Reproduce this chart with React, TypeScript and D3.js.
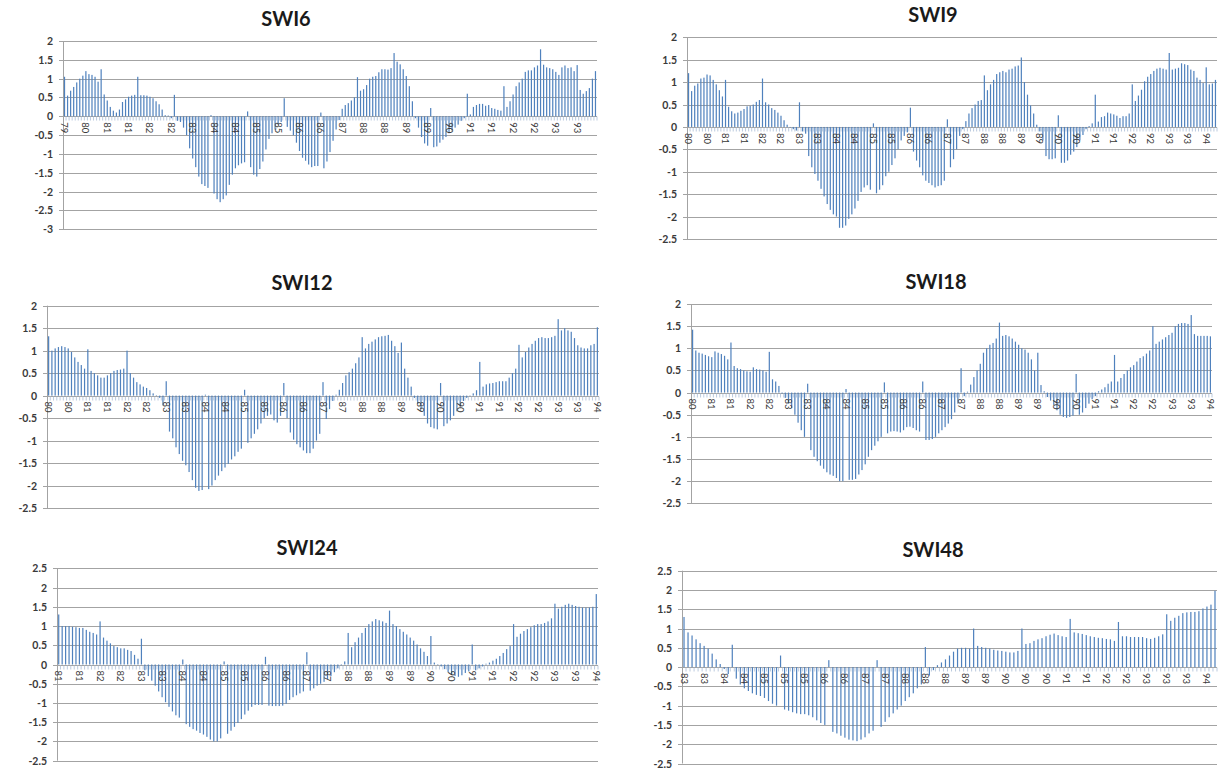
import React from 'react';
import * as d3 from 'd3';

// ---------- data (monthly index values) ----------
const swi6Values = [
  1.05, 0.55, 0.68, 0.78, 0.9, 1.0, 1.08, 1.2, 1.12, 1.1, 1.05, 0.92,
  1.25, 0.58, 0.42, 0.25, 0.15, 0.1, 0.18, 0.38, 0.45, 0.52, 0.55, 0.57,
  1.05, 0.56, 0.56, 0.55, 0.52, 0.48, 0.4, 0.32, 0.18, 0.03, 0.02, -0.05,
  0.57, -0.12, -0.15, -0.3, -0.5, -0.85, -1.12, -1.35, -1.6, -1.8, -1.85, -1.9,
  0.03, -2.05, -2.2, -2.28, -2.2, -2.1, -1.82, -1.55, -1.38, -1.3, -1.25, -1.22,
  0.13, -1.35, -1.55, -1.6, -1.4, -1.2, -0.88, -0.6, -0.45, -0.35, -0.22, -0.15,
  0.48, -0.28, -0.38, -0.5, -0.7, -0.92, -1.1, -1.18, -1.28, -1.35, -1.32, -1.32,
  0.1, -1.38, -1.2, -0.95, -0.65, -0.35, -0.1, 0.2, 0.3, 0.35, 0.42, 0.5,
  1.04, 0.68, 0.72, 0.83, 1.0, 1.05, 1.07, 1.17, 1.25, 1.25, 1.24, 1.28,
  1.68, 1.45, 1.38, 1.25, 1.07, 0.8, 0.4, -0.05, -0.3, -0.55, -0.72, -0.78,
  0.22, -0.82, -0.8, -0.7, -0.62, -0.55, -0.45, -0.38, -0.3, -0.22, -0.12, -0.05,
  0.6, 0.05, 0.25, 0.3, 0.33, 0.33, 0.28, 0.3, 0.22, 0.2, 0.17, 0.15,
  0.8, 0.25, 0.4, 0.58, 0.8, 0.9, 1.0, 1.18, 1.22, 1.22, 1.3, 1.35,
  1.78, 1.37, 1.3, 1.28, 1.25, 1.18, 1.1, 1.3, 1.35, 1.28, 1.3, 1.2,
  1.36, 0.7, 0.6, 0.67, 0.75, 1.0, 1.2,
];
const swi6Labels = ['79', '80', '81', '81', '82', '82', '83', '84', '84', '85', '85', '86', '86', '87', '88', '88', '89', '89', '90', '91', '91', '92', '92', '93', '93'];

const swi9Values = [
  1.2, 0.8, 0.92, 0.97, 1.08, 1.1, 1.17, 1.15, 1.05, 0.95, 0.82, 0.68,
  1.05, 0.45, 0.35, 0.3, 0.32, 0.36, 0.4, 0.46, 0.47, 0.5, 0.56, 0.6,
  1.08, 0.55, 0.5, 0.42, 0.38, 0.32, 0.25, 0.15, 0.05, 0.0, -0.05, -0.08,
  0.55, -0.1, -0.15, -0.65, -0.9, -1.05, -1.2, -1.38, -1.55, -1.72, -1.85, -1.95,
  -2.0, -2.25, -2.25, -2.2, -2.05, -1.95, -1.82, -1.65, -1.45, -1.35, -1.3, -1.4,
  0.08, -1.48, -1.4, -1.3, -1.1, -1.0, -0.85, -0.7, -0.5, -0.3, -0.2, -0.12,
  0.43, -0.55, -0.75, -0.9, -1.08, -1.2, -1.25, -1.3, -1.35, -1.32, -1.3, -1.2,
  0.17, -0.9, -0.72, -0.5, -0.2, -0.05, 0.13, 0.3, 0.42, 0.5, 0.58, 0.6,
  1.15, 0.82, 0.95, 1.05, 1.18, 1.22, 1.25, 1.22, 1.28, 1.3, 1.35, 1.37,
  1.55, 1.0, 0.72, 0.48, 0.3, 0.05, -0.1, -0.3, -0.65, -0.72, -0.72, -0.7,
  0.26, -0.8, -0.8, -0.75, -0.62, -0.55, -0.45, -0.3, -0.18, -0.05, 0.02, 0.08,
  0.72, 0.12, 0.22, 0.24, 0.32, 0.3, 0.28, 0.25, 0.2, 0.24, 0.24, 0.3,
  0.95, 0.58, 0.7, 0.83, 1.02, 1.12, 1.18, 1.25, 1.3, 1.32, 1.3, 1.28,
  1.65, 1.28, 1.3, 1.32, 1.42, 1.4, 1.38, 1.28, 1.25, 1.1, 1.05, 0.98,
  1.33, 0.95, 0.97, 1.05,
];
const swi9Labels = ['80', '80', '81', '81', '82', '82', '83', '83', '84', '84', '85', '85', '86', '86', '87', '87', '88', '88', '89', '89', '90', '90', '91', '91', '92', '92', '93', '93', '94'];

const swi12Values = [
  1.32, 1.0, 1.05, 1.08, 1.1, 1.08, 1.05, 0.97, 0.85, 0.75, 0.68, 0.6,
  1.03, 0.55, 0.5, 0.45, 0.4, 0.4, 0.45, 0.5, 0.55, 0.57, 0.58, 0.6,
  1.0, 0.5, 0.4, 0.3, 0.25, 0.2, 0.17, 0.12, 0.05, 0.01, -0.05, -0.22,
  0.32, -0.8, -0.95, -1.15, -1.3, -1.45, -1.55, -1.7, -1.88, -2.05, -2.12, -2.1,
  0.02, -2.08, -2.0, -1.88, -1.78, -1.68, -1.6, -1.52, -1.42, -1.35, -1.25, -1.18,
  0.13, -1.05, -0.95, -0.85, -0.75, -0.62, -0.5, -0.45, -0.42, -0.55, -0.6, -0.45,
  0.28, -0.5, -0.82, -0.98, -1.08, -1.15, -1.22, -1.28, -1.28, -1.18, -1.0, -0.85,
  0.3, -0.52, -0.3, -0.12, 0.02, 0.13, 0.28, 0.45, 0.52, 0.6, 0.72, 0.85,
  1.3, 1.05, 1.15, 1.2, 1.25, 1.3, 1.32, 1.33, 1.35, 1.22, 1.1, 0.95,
  1.18, 0.6, 0.4, 0.2, -0.05, -0.18, -0.3, -0.45, -0.62, -0.7, -0.73, -0.75,
  0.28, -0.68, -0.62, -0.55, -0.45, -0.35, -0.25, -0.12, -0.05, 0.0, 0.05, 0.12,
  0.75, 0.2, 0.25, 0.27, 0.28, 0.3, 0.32, 0.32, 0.32, 0.4, 0.5, 0.6,
  1.13, 0.85, 0.97, 1.07, 1.15, 1.22, 1.28, 1.3, 1.28, 1.28, 1.3, 1.33,
  1.7, 1.45, 1.5, 1.45, 1.42, 1.28, 1.12, 1.07, 1.05, 1.05, 1.12, 1.15,
  1.52,
];
const swi12Labels = ['80', '80', '81', '81', '82', '82', '83', '83', '84', '84', '85', '85', '86', '86', '87', '87', '88', '88', '89', '89', '90', '90', '91', '91', '92', '92', '93', '93', '94'];

const swi18Values = [
  1.42, 0.95, 0.9, 0.88, 0.85, 0.82, 0.8, 0.93, 0.9, 0.87, 0.83, 0.75,
  1.13, 0.6, 0.55, 0.53, 0.5, 0.48, 0.47, 0.57, 0.53, 0.52, 0.5, 0.47,
  0.92, 0.3, 0.25, 0.15, -0.02, -0.12, -0.25, -0.35, -0.5, -0.68, -0.85, -1.0,
  0.2, -1.3, -1.45, -1.55, -1.65, -1.72, -1.8, -1.85, -1.88, -1.93, -2.0, -2.0,
  0.08, -1.97, -1.97, -1.95, -1.85, -1.75, -1.62, -1.45, -1.3, -1.2, -1.1, -1.0,
  0.23, -0.92, -0.88, -0.87, -0.88, -0.9, -0.85, -0.78, -0.77, -0.8, -0.85, -0.88,
  0.25, -1.07, -1.07, -1.05, -1.0, -0.92, -0.85, -0.78, -0.7, -0.6, -0.45, -0.25,
  0.55, -0.08, 0.02, 0.18, 0.35, 0.5, 0.65, 0.9, 1.0, 1.08, 1.12, 1.22,
  1.58, 1.28, 1.3, 1.27, 1.22, 1.15, 1.08, 1.0, 0.97, 0.9, 0.75, 0.5,
  0.9, 0.17, 0.03, -0.1, -0.18, -0.28, -0.4, -0.5, -0.55, -0.57, -0.55, -0.52,
  0.42, -0.5, -0.45, -0.35, -0.25, -0.15, -0.08, 0.03, 0.07, 0.12, 0.2, 0.25,
  0.85, 0.25, 0.33, 0.42, 0.5, 0.57, 0.62, 0.7, 0.78, 0.82, 0.88, 0.95,
  1.5, 1.1, 1.15, 1.2, 1.25, 1.3, 1.35, 1.5, 1.55, 1.57, 1.57, 1.55,
  1.75, 1.32, 1.28, 1.28, 1.28, 1.28, 1.27,
];
const swi18Labels = ['80', '81', '81', '82', '82', '83', '83', '84', '84', '85', '85', '86', '86', '87', '87', '88', '88', '89', '89', '90', '90', '91', '91', '92', '92', '93', '93', '94'];

const swi24Values = [
  1.3, 1.0, 1.0, 1.0, 0.98, 0.97, 0.95, 0.95, 0.9, 0.85, 0.82, 0.78,
  1.12, 0.7, 0.62, 0.55, 0.48, 0.45, 0.42, 0.42, 0.38, 0.35, 0.25, 0.15,
  0.67, -0.15, -0.3, -0.42, -0.55, -0.7, -0.85, -0.98, -1.1, -1.22, -1.32, -1.38,
  0.13, -1.55, -1.62, -1.68, -1.72, -1.78, -1.82, -1.88, -1.95, -2.0, -2.0, -1.92,
  0.08, -1.8, -1.72, -1.62, -1.52, -1.42, -1.3, -1.2, -1.1, -1.05, -1.05, -1.05,
  0.2, -1.07, -1.08, -1.08, -1.08, -1.07, -1.02, -0.92, -0.85, -0.8, -0.75, -0.7,
  0.32, -0.68, -0.62, -0.55, -0.5, -0.45, -0.38, -0.3, -0.2, -0.1, -0.02, 0.08,
  0.82, 0.45, 0.58, 0.7, 0.82, 0.95, 1.05, 1.12, 1.18, 1.15, 1.12, 1.08,
  1.4, 1.05, 1.0, 0.92, 0.85, 0.78, 0.7, 0.62, 0.52, 0.42, 0.33, 0.22,
  0.74, 0.05, 0.0, -0.05, -0.12, -0.2, -0.25, -0.3, -0.32, -0.28, -0.22, -0.18,
  0.52, -0.15, -0.1, -0.05, 0.02, 0.05, 0.1, 0.15, 0.22, 0.3, 0.4, 0.48,
  1.05, 0.72, 0.8, 0.87, 0.92, 0.97, 1.02, 1.05, 1.05, 1.08, 1.12, 1.2,
  1.58, 1.45, 1.5, 1.55, 1.58, 1.55, 1.52, 1.5, 1.48, 1.48, 1.48, 1.5,
  1.83,
];
const swi24Labels = ['81', '81', '82', '82', '83', '83', '84', '84', '85', '85', '86', '86', '87', '87', '88', '88', '89', '89', '90', '90', '91', '91', '92', '92', '93', '93', '94'];

const swi48Values = [
  1.3, 0.9, 0.82, 0.72, 0.62, 0.55, 0.48, 0.35, 0.2, 0.08, -0.05, -0.18,
  0.58, -0.3, -0.45, -0.55, -0.62, -0.68, -0.72, -0.75, -0.8, -0.88, -0.95, -1.0,
  0.3, -1.1, -1.13, -1.17, -1.2, -1.22, -1.22, -1.25, -1.3, -1.38, -1.45, -1.5,
  0.18, -1.68, -1.72, -1.78, -1.83, -1.88, -1.9, -1.92, -1.88, -1.82, -1.72, -1.65,
  0.18, -1.55, -1.42, -1.3, -1.2, -1.1, -1.0, -0.88, -0.78, -0.68, -0.55, -0.45,
  0.52, -0.22, -0.08, 0.05, 0.12, 0.2, 0.3, 0.4, 0.48, 0.5, 0.5, 0.48,
  1.0, 0.55, 0.52, 0.5, 0.48, 0.45, 0.43, 0.42, 0.4, 0.38, 0.38, 0.42,
  1.0, 0.6, 0.62, 0.68, 0.72, 0.75, 0.8, 0.84, 0.87, 0.83, 0.8, 0.78,
  1.25, 0.9, 0.88, 0.86, 0.83, 0.8, 0.78, 0.76, 0.75, 0.73, 0.72, 0.68,
  1.17, 0.8, 0.8, 0.78, 0.78, 0.78, 0.78, 0.75, 0.73, 0.76, 0.8, 0.85,
  1.37, 1.2, 1.28, 1.33, 1.4, 1.42, 1.43, 1.43, 1.45, 1.52, 1.57, 1.62,
  1.98,
];
const swi48Labels = ['83', '83', '84', '84', '85', '85', '85', '86', '86', '87', '87', '88', '88', '88', '89', '89', '90', '90', '90', '91', '91', '92', '92', '93', '93', '93', '94'];

const panelTitles = ['SWI6', 'SWI9', 'SWI12', 'SWI18', 'SWI24', 'SWI48'];
const panelSeries = [swi6Values, swi9Values, swi12Values, swi18Values, swi24Values, swi48Values];
const panelLabels = [swi6Labels, swi9Labels, swi12Labels, swi18Labels, swi24Labels, swi48Labels];
const labelIntervals = [7, 6, 6, 6, 6, 5];
const yDomains: [number, number][] = [[-3, 2], [-2.5, 2], [-2.5, 2], [-2.5, 2], [-2.5, 2.5], [-2.5, 2.5]];

// ---------- layout (pixel geometry, kept separate from the data) ----------
const layouts = [
  { left: 63, right: 597, top: 41, bottom: 229.3, titleX: 286, titleY: 17.5 },
  { left: 687, right: 1217, top: 37.3, bottom: 239, titleX: 933, titleY: 13.5 },
  { left: 47, right: 599, top: 305.7, bottom: 508, titleX: 302, titleY: 282 },
  { left: 691, right: 1212, top: 304, bottom: 503.3, titleX: 936, titleY: 281 },
  { left: 57, right: 598, top: 568.3, bottom: 760.7, titleX: 307, titleY: 547 },
  { left: 682, right: 1217, top: 570.7, bottom: 763.5, titleX: 933, titleY: 548.5 },
];

const FONT = 'Lato, "Open Sans", "DejaVu Sans", sans-serif';
const GRID = '#a3a3a3';
const BAR = '#4f81bd';
const TEXT = '#3a3a3a';

const fmt = (v: number) => String(Math.round(v * 10) / 10);

function Panel({ idx }: { idx: number }) {
  const values = panelSeries[idx];
  const labels = panelLabels[idx];
  const interval = labelIntervals[idx];
  const [yMin, yMax] = yDomains[idx];
  const L = layouts[idx];

  const x = d3.scaleBand<number>().domain(d3.range(values.length)).range([L.left, L.right]);
  const y = d3.scaleLinear().domain([yMin, yMax]).range([L.bottom, L.top]);
  const bw = x.bandwidth();
  const nTicks = Math.round((yMax - yMin) / 0.5);
  const yTicks = d3.range(nTicks + 1).map((i) => yMin + i * 0.5);
  const y0 = y(0);
  const snap = (v: number) => Math.round(v) + 0.5;

  return (
    <g>
      <text x={L.titleX} y={L.titleY} textAnchor="middle" dominantBaseline="central"
        fontFamily={FONT} fontWeight={700} fontSize={20} fill="#1a1a1a">
        {panelTitles[idx]}
      </text>
      {yTicks.map((t) => (
        <g key={'g' + t}>
          <line x1={L.left - 4} x2={L.right} y1={snap(y(t))} y2={snap(y(t))} stroke={GRID} strokeWidth={1} />
          <text x={L.left - 10} y={y(t)} textAnchor="end" dominantBaseline="central"
            fontFamily={FONT} fontWeight={700} fontSize={10.5} fill={TEXT}>
            {fmt(t)}
          </text>
        </g>
      ))}
      <line x1={snap(L.left)} x2={snap(L.left)} y1={L.top} y2={L.bottom} stroke={GRID} strokeWidth={1} />
      {values.map((v, i) => (
        <line key={'t' + i} x1={(x(i) as number) + bw} x2={(x(i) as number) + bw}
          y1={snap(y0)} y2={snap(y0) + 4} stroke="#a9bcd6" strokeWidth={0.8} />
      ))}
      {values.map((v, i) => {
        const cx = (x(i) as number) + bw / 2;
        const yv = y(v);
        return (
          <rect key={'b' + i} x={cx - 0.6} width={1.2}
            y={Math.min(yv, y0)} height={Math.max(0.5, Math.abs(yv - y0))} fill={BAR} />
        );
      })}
      {labels.map((lab, k) => {
        const cx = (x(k * interval) as number) + bw / 2;
        return (
          <text key={'l' + k} transform={`translate(${cx},${y0 + 6}) rotate(90)`}
            textAnchor="start" dominantBaseline="central"
            fontFamily={FONT} fontSize={9.5} fill={TEXT}>
            {lab}
          </text>
        );
      })}
    </g>
  );
}

export default function App() {
  return (
    <svg width={1220} height={769} style={{ position: 'absolute', left: 0, top: 0, background: '#fff' }}>
      <rect width={1220} height={769} fill="#fff" />
      {panelTitles.map((_, i) => (
        <Panel key={i} idx={i} />
      ))}
    </svg>
  );
}
